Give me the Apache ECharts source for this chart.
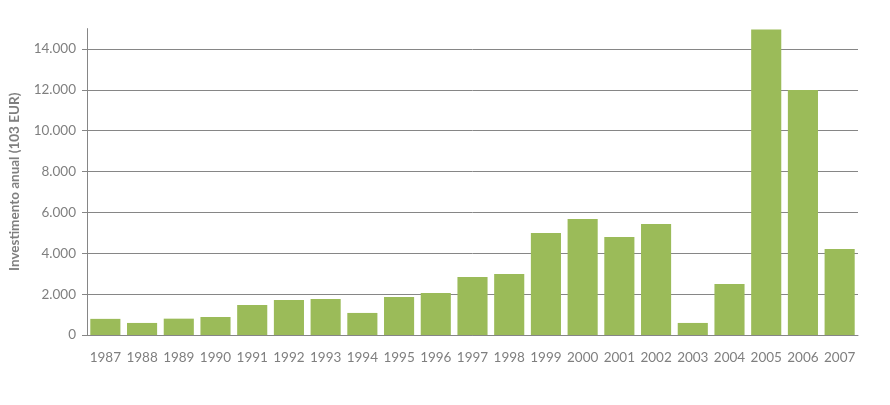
<!DOCTYPE html>
<html><head><meta charset="utf-8">
<script src="https://cdn.jsdelivr.net/npm/echarts@6/dist/echarts.min.js"></script>
<style>html,body{margin:0;padding:0;background:#fff}#c{width:890px;height:405px}</style>
</head><body><div id="c"></div>
<script>
const years = ['1987','1988','1989','1990','1991','1992','1993','1994','1995','1996','1997','1998','1999','2000','2001','2002','2003','2004','2005','2006','2007'];
const investimento = [790,590,800,880,1470,1710,1760,1080,1860,2060,2840,2990,4990,5680,4800,5430,590,2500,14950,12000,4210];
const yAxisName = 'Investimento anual (103 EUR)';

const chart = echarts.init(document.getElementById('c'), null, {renderer:'canvas'});
const font = 'Lato, "Open Sans", sans-serif';
chart.setOption({
  animation:false,
  grid:{left:87,right:32,top:28.6,bottom:70},
  xAxis:{type:'category',data:years,
    axisLine:{lineStyle:{color:'#868686',width:1}},
    axisTick:{show:false},
    axisLabel:{color:'#7f7f7f',fontSize:13.5,fontFamily:font,margin:16,interval:0}},
  yAxis:{type:'value',min:0,max:15000,interval:2000,
    name:yAxisName,nameLocation:'middle',nameGap:65,nameRotate:90,
    nameTextStyle:{color:'#7f7f7f',fontSize:13.5,fontWeight:'bold',fontFamily:font},
    axisLine:{show:true,lineStyle:{color:'#868686',width:1}},
    axisTick:{show:true,length:5,lineStyle:{color:'#868686'}},
    splitLine:{show:true,showMaxLine:false,lineStyle:{color:'#868686',width:1}},
    axisLabel:{color:'#7f7f7f',fontSize:13.5,fontFamily:font,margin:11,showMaxLabel:false,
      formatter:v=> v%2000!==0 ? '' : (v===0?'0':String(v).replace(/\B(?=(\d{3})+(?!\d))/g,'.'))}},
  series:[{type:'bar',data:investimento,barCategoryGap:'18%',itemStyle:{color:'#9bbb59'}}]
});
</script></body></html>
